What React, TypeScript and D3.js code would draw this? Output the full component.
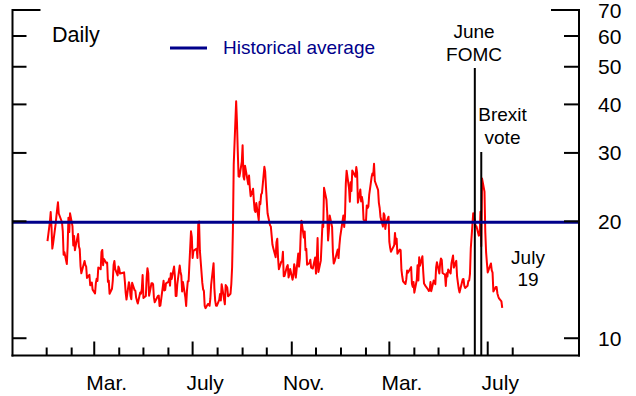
import React from "react";
import * as d3 from "d3";

// VIX-style daily closes, [day of month, value]
const jan15: [number, number][] = [[2,17.79],[5,19.92],[6,21.12],[7,19.31],[8,17.01],[9,17.55],[12,19.60],[13,20.56],[14,21.48],[15,22.39],[16,20.95],[20,19.89],[21,18.85],[22,16.40],[23,16.66],[26,15.52],[27,17.22],[28,20.44],[29,18.76],[30,20.97]];
const feb15: [number, number][] = [[2,19.43],[3,17.33],[4,18.33],[5,16.85],[6,17.29],[9,18.55],[10,17.23],[11,16.96],[12,15.34],[13,14.69],[17,15.80],[18,15.45],[19,15.29],[20,14.30],[23,14.56],[24,13.69],[25,13.84],[26,13.91],[27,13.34]];
const mar15: [number, number][] = [[2,13.04],[3,13.86],[4,14.23],[5,14.04],[6,15.20],[9,15.06],[10,16.69],[11,16.87],[12,15.42],[13,16.00],[16,15.61],[17,15.66],[18,13.97],[19,14.07],[20,13.02],[23,13.41],[24,14.06],[25,15.44],[26,15.80],[27,15.07],[30,14.51],[31,15.29]];
const apr15: [number, number][] = [[1,15.11],[2,14.67],[6,14.74],[7,14.78],[8,13.98],[9,13.09],[10,12.58],[13,13.94],[14,13.67],[15,12.84],[16,12.60],[17,13.89],[20,13.30],[21,13.25],[22,12.71],[23,12.48],[24,12.29],[27,13.12],[28,13.03],[29,13.39],[30,14.55]];
const may15: [number, number][] = [[1,12.70],[4,12.85],[5,14.31],[6,15.15],[7,14.71],[8,12.86],[11,13.85],[12,13.86],[13,13.76],[14,12.74],[15,12.38],[18,12.73],[19,12.85],[20,12.88],[21,12.11],[22,12.13],[26,14.06],[27,13.27],[28,13.31],[29,13.84]];
const jun15: [number, number][] = [[1,13.97],[2,14.24],[3,13.66],[4,14.71],[5,14.21],[8,15.29],[9,14.47],[10,12.85],[11,12.85],[12,13.78],[15,15.39],[16,14.81],[17,14.50],[18,13.19],[19,13.96],[22,12.74],[23,12.11],[24,13.26],[25,14.01],[26,14.02],[29,18.85],[30,18.23]];
const jul15: [number, number][] = [[1,16.09],[2,16.79],[6,17.01],[7,16.09],[8,19.66],[9,19.97],[10,16.83],[13,13.90],[14,13.37],[15,13.23],[16,12.11],[17,11.95],[20,12.25],[21,12.22],[22,12.12],[23,12.64],[24,13.74],[27,15.60],[28,13.44],[29,12.50],[30,12.13],[31,12.12]];
const aug15: [number, number][] = [[3,12.56],[4,13.00],[5,12.51],[6,13.77],[7,13.39],[10,12.23],[11,13.71],[12,13.61],[13,13.49],[14,12.83],[17,13.02],[18,13.79],[19,15.25],[20,19.14],[21,28.03],[24,40.74],[25,36.02],[26,30.32],[27,26.10],[28,26.05],[31,28.43]];
const sep15: [number, number][] = [[1,31.40],[2,26.09],[3,25.61],[4,27.80],[8,24.90],[9,26.23],[10,24.37],[11,23.20],[14,24.25],[15,22.54],[16,21.35],[17,21.14],[18,22.28],[21,20.14],[22,22.44],[23,22.13],[24,23.47],[25,23.62],[28,27.63],[29,26.83],[30,24.50]];
const oct15: [number, number][] = [[1,22.55],[2,20.94],[5,19.54],[6,19.40],[7,18.40],[8,17.42],[9,17.08],[12,16.17],[13,17.67],[14,18.03],[15,16.05],[16,15.05],[19,15.75],[20,15.75],[21,16.70],[22,14.45],[23,14.46],[26,15.29],[27,15.43],[28,14.33],[29,14.61],[30,15.07]];
const nov15: [number, number][] = [[2,14.15],[3,14.54],[4,15.51],[5,15.05],[6,14.33],[9,16.52],[10,15.29],[11,16.06],[12,18.37],[13,20.08],[16,18.16],[17,18.84],[18,16.85],[19,16.99],[20,15.47],[23,15.62],[24,15.93],[25,15.19],[27,15.12],[30,16.13]];
const dec15: [number, number][] = [[1,14.67],[2,15.91],[3,18.11],[4,14.81],[7,15.84],[8,17.60],[9,19.61],[10,19.34],[11,24.39],[14,22.73],[15,20.95],[16,17.86],[17,18.94],[18,20.70],[21,19.34],[22,16.60],[23,15.57],[24,15.74],[28,16.91],[29,16.08],[30,17.29],[31,18.21]];
const jan16: [number, number][] = [[4,20.70],[5,19.34],[6,20.59],[7,24.99],[8,27.01],[11,24.30],[12,22.47],[13,25.22],[14,23.95],[15,27.02],[19,26.05],[20,27.59],[21,26.69],[22,22.34],[25,24.15],[26,22.50],[27,23.11],[28,22.42],[29,20.20]];
const feb16: [number, number][] = [[1,19.98],[2,21.98],[3,21.65],[4,21.84],[5,23.38],[8,26.00],[9,26.54],[10,26.29],[11,28.14],[12,25.40],[16,24.11],[17,22.31],[18,21.64],[19,20.53],[22,19.38],[23,20.98],[24,20.72],[25,19.11],[26,19.81],[29,20.55]];
const mar16: [number, number][] = [[1,17.70],[2,17.09],[3,16.70],[4,16.86],[7,17.35],[8,18.67],[9,17.50],[10,18.05],[11,16.50],[14,16.92],[15,16.84],[16,14.99],[17,14.44],[18,14.02],[21,13.79],[22,14.17],[23,14.94],[24,14.74],[28,15.24],[29,13.82],[30,13.56],[31,13.95]];
const apr16: [number, number][] = [[1,13.10],[4,14.12],[5,15.42],[6,14.09],[7,16.16],[8,15.36],[11,16.26],[12,14.85],[13,13.84],[14,13.72],[15,13.62],[18,13.35],[19,13.24],[20,13.28],[21,13.95],[22,13.22],[25,14.08],[26,13.96],[27,13.77],[28,15.22],[29,15.70]];
const may16: [number, number][] = [[2,14.68],[3,15.60],[4,16.05],[5,15.91],[6,14.72],[9,14.57],[10,13.63],[11,14.69],[12,14.41],[13,15.04],[16,14.68],[17,15.57],[18,15.95],[19,16.33],[20,15.20],[23,15.82],[24,14.42],[25,13.90],[26,13.43],[27,13.12],[31,14.19]];
const jun16: [number, number][] = [[1,14.20],[2,13.63],[3,13.47],[6,13.65],[7,14.05],[8,14.08],[9,14.64],[10,17.03],[13,20.97],[14,20.50],[15,20.14],[16,19.37],[17,19.41],[20,18.37],[21,18.48],[22,21.17],[23,17.25],[24,25.76],[27,23.85],[28,18.75],[29,16.64],[30,15.63]];
const jul16: [number, number][] = [[1,14.77],[5,15.58],[6,14.96],[7,14.76],[8,13.20],[11,13.54],[12,13.55],[13,13.04],[14,12.82],[15,12.67],[18,12.44],[19,11.97]];

const monthBlocks: [number, number, [number, number][]][] = [
  [2015, 0, jan15], [2015, 1, feb15], [2015, 2, mar15], [2015, 3, apr15],
  [2015, 4, may15], [2015, 5, jun15], [2015, 6, jul15], [2015, 7, aug15],
  [2015, 8, sep15], [2015, 9, oct15], [2015, 10, nov15], [2015, 11, dec15],
  [2016, 0, jan16], [2016, 1, feb16], [2016, 2, mar16], [2016, 3, apr16],
  [2016, 4, may16], [2016, 5, jun16], [2016, 6, jul16],
];

const historicalAverage = 19.9;
const yTicks = [10, 20, 30, 40, 50, 60, 70];
const xLabelMonths: [number, number, string][] = [
  [2015, 2, "Mar."], [2015, 6, "July"], [2015, 10, "Nov."], [2016, 2, "Mar."], [2016, 6, "July"],
];
const events: [number, number, number, string[]][] = [
  [2016, 5, 15, ["June", "FOMC"]],
  [2016, 5, 23, ["Brexit", "vote"]],
];

const FONT = "'Liberation Sans', Arial, Helvetica, sans-serif";
const NAVY = "#00008B";

export default function App() {
  const W = 636, H = 396;
  const left = 12.5, right = 579, top = 10, bottom = 355.5;

  const x = d3.scaleTime()
    .domain([new Date(2014, 10, 19), new Date(2016, 9, 22, 5)])
    .range([12, 579]);
  const y = d3.scaleLog().domain([9, 70]).range([356, 10]);

  const series: { d: Date; v: number }[] = [];
  monthBlocks.forEach(([yr, mo, arr]) => {
    arr.forEach(([day, v]) => series.push({ d: new Date(yr, mo, day), v }));
  });

  const line = d3.line<{ d: Date; v: number }>()
    .x((p) => x(p.d))
    .y((p) => y(p.v));

  const monthTicks = d3.timeMonth.range(new Date(2015, 0, 1), new Date(2016, 7, 2));
  const majorSet = new Set(xLabelMonths.map(([yr, mo]) => `${yr}-${mo}`));

  const evX = events.map(([yr, mo, day]) => x(new Date(yr, mo, day)));

  return (
    <svg width={W} height={H} style={{ position: "absolute", left: 0, top: 0, background: "#fff" }}
      fontFamily={FONT}>
      {/* data line */}
      <path d={line(series) || ""} fill="none" stroke="#ff0000" strokeWidth={2} strokeLinejoin="round" />

      {/* event lines */}
      <line x1={evX[0]} x2={evX[0]} y1={68} y2={bottom} stroke="#000" strokeWidth={2} />
      <line x1={evX[1]} x2={evX[1]} y1={152} y2={bottom} stroke="#000" strokeWidth={2} />

      {/* historical average */}
      <line x1={left} x2={right} y1={y(historicalAverage)} y2={y(historicalAverage)} stroke={NAVY} strokeWidth={3} />

      {/* axes frame */}
      <line x1={left} x2={left} y1={top - 1} y2={bottom + 1} stroke="#000" strokeWidth={2} />
      <line x1={right} x2={right} y1={top - 1} y2={bottom + 1} stroke="#000" strokeWidth={2} />
      <line x1={left - 1} x2={right + 1} y1={bottom} y2={bottom} stroke="#000" strokeWidth={2} />

      {/* y ticks */}
      {yTicks.map((t) => {
        const long = t === 70;
        return (
          <g key={t}>
            <line x1={left} x2={left + (long ? 28 : 14)} y1={y(t)} y2={y(t)} stroke="#000" strokeWidth={2} />
            <line x1={right - (long ? 28 : 15)} x2={right} y1={y(t)} y2={y(t)} stroke="#000" strokeWidth={2} />
            <text x={598} y={y(t)} dy="0.36em" fontSize={21} fill="#000">{t}</text>
          </g>
        );
      })}

      {/* x ticks */}
      {monthTicks.map((m) => {
        const major = majorSet.has(`${m.getFullYear()}-${m.getMonth()}`);
        return (
          <line key={m.getTime()} x1={x(m)} x2={x(m)} y1={bottom} y2={bottom - (major ? 14 : 8)}
            stroke="#000" strokeWidth={2} />
        );
      })}
      {xLabelMonths.map(([yr, mo, lab]) => {
        const cx = (x(new Date(yr, mo, 1)) + x(new Date(yr, mo + 1, 1))) / 2;
        return (
          <text key={`${yr}-${mo}`} x={cx} y={390} textAnchor="middle" fontSize={21} fill="#000">{lab}</text>
        );
      })}

      {/* labels */}
      <text x={52} y={42} fontSize={21.5} fill="#000">Daily</text>
      <line x1={170} x2={207} y1={48} y2={48} stroke={NAVY} strokeWidth={3} />
      <text x={223} y={54} fontSize={19} fill={NAVY}>Historical average</text>

      <text x={474} y={38} textAnchor="middle" fontSize={19} fill="#000">{events[0][3][0]}</text>
      <text x={474} y={61} textAnchor="middle" fontSize={19} fill="#000">{events[0][3][1]}</text>
      <text x={502.5} y={121} textAnchor="middle" fontSize={19} fill="#000">{events[1][3][0]}</text>
      <text x={502.5} y={143.5} textAnchor="middle" fontSize={19} fill="#000">{events[1][3][1]}</text>
      <text x={528} y={264} textAnchor="middle" fontSize={19} fill="#000">July</text>
      <text x={528} y={286} textAnchor="middle" fontSize={19} fill="#000">19</text>
    </svg>
  );
}
